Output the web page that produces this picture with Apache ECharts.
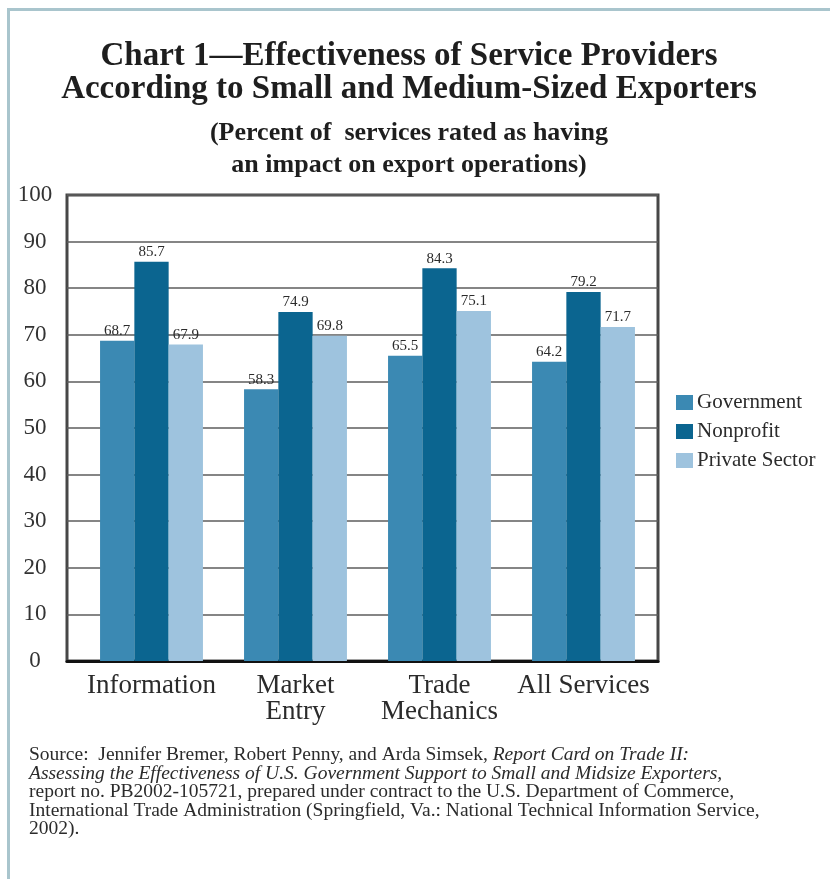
<!DOCTYPE html>
<html>
<head>
<meta charset="utf-8">
<title>Chart 1 — Effectiveness of Service Providers</title>
<script src="https://cdn.jsdelivr.net/npm/echarts@6/dist/echarts.min.js"></script>
<style>
  html, body { margin: 0; padding: 0; background: #ffffff; }
  #page { position: relative; width: 830px; height: 879px; overflow: hidden; }
  #rule { position: absolute; left: 7px; top: 8px; width: 840px; height: 890px;
          border-top: 3px solid #a9c5cd; border-left: 3px solid #a9c5cd; box-sizing: border-box; }
  #chart { position: absolute; left: 0; top: 0; width: 830px; height: 879px; }
</style>
</head>
<body>
<div id="page">
  <div id="rule"></div>
  <div id="chart"></div>
</div>
<script>
// Service categories along the x axis
const categories = ['Information', 'Market\nEntry', 'Trade\nMechanics', 'All Services'];

// Percent of services rated as having an impact, by provider type
const government    = [68.7, 58.3, 65.5, 64.2];
const nonprofit     = [85.7, 74.9, 84.3, 79.2];
const privateSector = [67.9, 69.8, 75.1, 71.7];

const seriesNames = ['Government', 'Nonprofit', 'Private Sector'];
const seriesColors = ['#3b89b3', '#0b6590', '#9ec3de'];

// Y axis scale
const yMin = 0, yMax = 100, yStep = 10;

const serif = 'Liberation Serif';
const ink = '#2b2b2b';

const chart = echarts.init(document.getElementById('chart'), null, { renderer: 'canvas' });

function barSeries(name, values, color) {
  return {
    name: name,
    type: 'bar',
    xAxisIndex: 1,
    yAxisIndex: 1,
    data: values,
    barWidth: 34.3,
    barGap: '0%',
    itemStyle: { color: color },
    label: {
      show: true,
      position: 'top',
      distance: 2,
      fontFamily: serif,
      fontSize: 15,
      color: ink,
      formatter: p => p.value.toFixed(1)
    },
    emphasis: { disabled: true }
  };
}

const option = {
  animation: false,
  title: [
    {
      text: 'Chart 1\u2014Effectiveness of Service Providers\nAccording to Small and Medium-Sized Exporters',
      left: 409, top: 40, padding: 0,
      textAlign: 'center',
      textStyle: { fontFamily: serif, fontWeight: 'bold', fontSize: 33, lineHeight: 33, color: '#1e1e1e' }
    },
    {
      text: '(Percent of  services rated as having\nan impact on export operations)',
      left: 409, top: 117, padding: 0,
      textAlign: 'center',
      textStyle: { fontFamily: serif, fontWeight: 'bold', fontSize: 26, lineHeight: 32, color: '#1e1e1e' }
    },
    {
      text: '{n|Source:  Jennifer Bremer, Robert Penny, and Arda Simsek, }{i|Report Card on Trade II:}\n' +
            '{i|Assessing the Effectiveness of U.S. Government Support to Small and Midsize Exporters,}\n' +
            '{n|report no. PB2002-105721, prepared under contract to the U.S. Department of Commerce,}\n' +
            '{n|International Trade Administration (Springfield, Va.: National Technical Information Service,}\n' +
            '{n|2002).}',
      left: 29, top: 746, padding: 0,
      textStyle: {
        fontWeight: 'normal',
        rich: {
          n: { fontFamily: serif, fontWeight: 'normal', fontSize: 19.5, lineHeight: 18.5, color: ink },
          i: { fontFamily: serif, fontWeight: 'normal', fontSize: 19.5, lineHeight: 18.5, color: ink, fontStyle: 'italic' }
        }
      }
    }
  ],
  legend: {
    data: seriesNames,
    orient: 'vertical',
    left: 676, top: 392,
    itemWidth: 17, itemHeight: 15, itemGap: 8,
    padding: 0,
    icon: 'rect',
    selectedMode: false,
    textStyle: { fontFamily: serif, fontSize: 21, color: ink, padding: [0, 0, 0, -1] }
  },
  grid: [
    // frame with the value scale and gridlines
    { left: 67, right: 172, top: 195, bottom: 218, show: true, borderColor: '#474747', borderWidth: 3, backgroundColor: 'transparent', containLabel: false },
    // bar area
    { left: 79.5, right: 174.5, top: 195, bottom: 218, containLabel: false }
  ],
  xAxis: [
    {
      gridIndex: 0, type: 'category', data: categories,
      axisLine: { show: true, lineStyle: { color: '#111', width: 3 } },
      axisTick: { show: false }, axisLabel: { show: false }, splitLine: { show: false }
    },
    {
      gridIndex: 1, type: 'category', data: categories,
      axisLine: { show: false }, axisTick: { show: false },
      axisLabel: { fontFamily: serif, fontSize: 27, lineHeight: 26, color: ink, margin: 12, interval: 0 }
    }
  ],
  yAxis: [
    {
      gridIndex: 0, type: 'value', min: yMin, max: yMax, interval: yStep,
      axisLine: { show: false }, axisTick: { show: false },
      axisLabel: { fontFamily: serif, fontSize: 23, color: '#333', margin: 32, align: 'center' },
      splitLine: { show: true, lineStyle: { color: '#5c5c5c', width: 1.5 } }
    },
    {
      gridIndex: 1, type: 'value', min: yMin, max: yMax, interval: yStep,
      show: false, splitLine: { show: false }
    }
  ],
  series: [
    barSeries(seriesNames[0], government, seriesColors[0]),
    barSeries(seriesNames[1], nonprofit, seriesColors[1]),
    barSeries(seriesNames[2], privateSector, seriesColors[2])
  ]
};

chart.setOption(option);
</script>
</body>
</html>
